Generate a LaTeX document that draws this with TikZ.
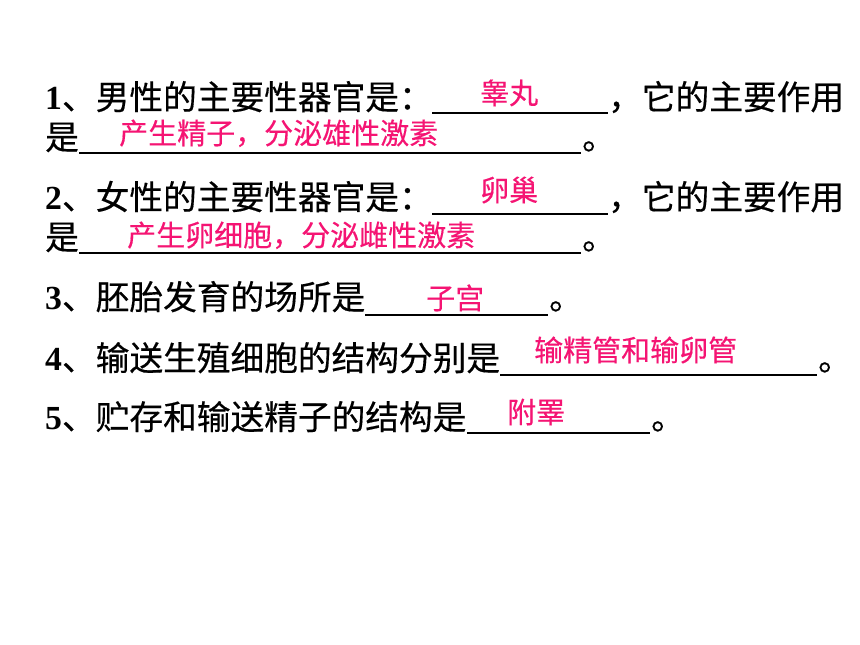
\documentclass[tikz,border=0pt]{standalone}
\usepackage{fontspec}
\setmainfont{Liberation Serif}
\newfontfamily\cjk{Noto Sans CJK SC}[FakeBold=0.4]
\newfontfamily\cjkans{Noto Sans CJK SC}[FakeBold=0.3]
\newfontfamily\digitfont{Liberation Serif}[BoldFont={Liberation Serif Bold}]
\definecolor{answerred}{RGB}{245,20,115}
\begin{document}
\begin{tikzpicture}[x=1pt,y=-1pt,
  question/.style={anchor=base west,inner sep=0pt,font=\fontsize{33.7}{36}\selectfont\cjk,text=black},
  answer/.style={anchor=base west,inner sep=0pt,font=\fontsize{29}{32}\selectfont\cjkans,text=answerred},
  blank/.style={line width=1.8pt,draw=black}]
\useasboundingbox (0,0) rectangle (860,645);
\fill[white] (0,0) rectangle (860,645);
\newcommand{\qn}[1]{{\digitfont\bfseries #1}}
% line 1
\node[question] (q1a) at (45,109.5) {\qn{1}、男性的主要性器官是：};
\coordinate (b1s) at (432,113); \coordinate (b1e) at (608,113);
\draw[blank] (b1s) -- (b1e);
\node[answer] (a1) at (480,104) {睾丸};
\node[question] (q1b) at (608,109.5) {，它的主要作用};
% line 2
\node[question] (q2a) at (45,149.5) {是};
\coordinate (b2s) at (79,153); \coordinate (b2e) at (581,153);
\draw[blank] (b2s) -- (b2e);
\node[answer] (a2) at (119,144) {产生精子，分泌雄性激素};
\node[question] (q2b) at (582,149.5) {。};
% line 3
\node[question] (q3a) at (45,209.5) {\qn{2}、女性的主要性器官是：};
\coordinate (b3s) at (432,214); \coordinate (b3e) at (608,214);
\draw[blank] (b3s) -- (b3e);
\node[answer] (a3) at (480,201) {卵巢};
\node[question] (q3b) at (608,209.5) {，它的主要作用};
% line 4
\node[question] (q4a) at (45,249.5) {是};
\coordinate (b4s) at (79,253); \coordinate (b4e) at (581,253);
\draw[blank] (b4s) -- (b4e);
\node[answer] (a4) at (127,246) {产生卵细胞，分泌雌性激素};
\node[question] (q4b) at (582,249.5) {。};
% line 5
\node[question] (q5a) at (45,309.5) {\qn{3}、胚胎发育的场所是};
\coordinate (b5s) at (365,315); \coordinate (b5e) at (548,315);
\draw[blank] (b5s) -- (b5e);
\node[answer] (a5) at (426,309) {子宫};
\node[question] (q5b) at (549,309.5) {。};
% line 6
\node[question] (q6a) at (45,370.5) {\qn{4}、输送生殖细胞的结构分别是};
\coordinate (b6s) at (500,375); \coordinate (b6e) at (817,375);
\draw[blank] (b6s) -- (b6e);
\node[answer] (a6) at (534,361) {输精管和输卵管};
\node[question] (q6b) at (818,370.5) {。};
% line 7
\node[question] (q7a) at (45,429.5) {\qn{5}、贮存和输送精子的结构是};
\coordinate (b7s) at (467,433); \coordinate (b7e) at (650,433);
\draw[blank] (b7s) -- (b7e);
\node[answer] (a7) at (507,423) {附睪};
\node[question] (q7b) at (651,429.5) {。};
\end{tikzpicture}
\end{document}
